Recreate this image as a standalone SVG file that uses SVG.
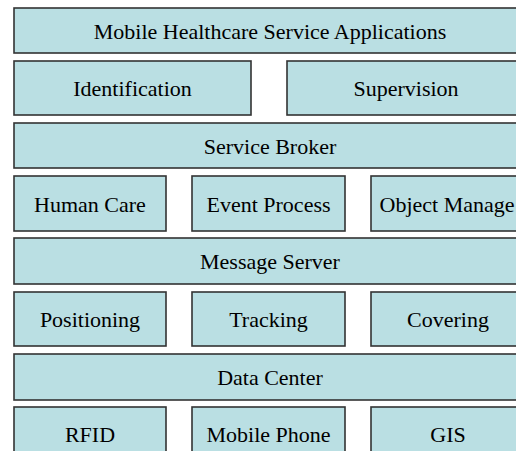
<svg xmlns="http://www.w3.org/2000/svg" width="516" height="451" viewBox="0 0 516 451">
<style>
rect{fill:#badfe3;stroke:#333;stroke-width:1.6}
text{font-family:'Liberation Serif','Times New Roman',serif;font-size:22px;fill:#000;text-anchor:middle}
</style>
<rect x="0" y="0" width="516" height="451" style="fill:#fff;stroke:none"/>
<g id="apps"><rect x="14" y="8" width="512" height="45"/><text x="270" y="39">Mobile Healthcare Service Applications</text></g>
<g id="identification"><rect x="14" y="61" width="237" height="54"/><text x="132.5" y="96">Identification</text></g>
<g id="supervision"><rect x="287" y="61" width="239" height="54"/><text x="406" y="96">Supervision</text></g>
<g id="broker"><rect x="14" y="123" width="512" height="45"/><text x="270" y="153.5">Service Broker</text></g>
<g id="humancare"><rect x="14" y="176" width="152" height="55"/><text x="90" y="211.5">Human Care</text></g>
<g id="eventprocess"><rect x="192" y="176" width="153" height="55"/><text x="268.5" y="211.5">Event Process</text></g>
<g id="objectmanage"><rect x="371" y="176" width="155" height="55"/><text x="447" y="211.5">Object Manage</text></g>
<g id="messageserver"><rect x="14" y="238" width="512" height="46"/><text x="270" y="269">Message Server</text></g>
<g id="positioning"><rect x="14" y="292" width="152" height="54"/><text x="90" y="327">Positioning</text></g>
<g id="tracking"><rect x="192" y="292" width="153" height="54"/><text x="268.5" y="327">Tracking</text></g>
<g id="covering"><rect x="371" y="292" width="155" height="54"/><text x="448" y="327">Covering</text></g>
<g id="datacenter"><rect x="14" y="354" width="512" height="46"/><text x="270" y="385">Data Center</text></g>
<g id="rfid"><rect x="14" y="407" width="152" height="60"/><text x="90" y="442">RFID</text></g>
<g id="mobilephone"><rect x="192" y="407" width="153" height="60"/><text x="268.5" y="442">Mobile Phone</text></g>
<g id="gis"><rect x="371" y="407" width="155" height="60"/><text x="448" y="442">GIS</text></g>
<g id="connectors"></g>
</svg>
